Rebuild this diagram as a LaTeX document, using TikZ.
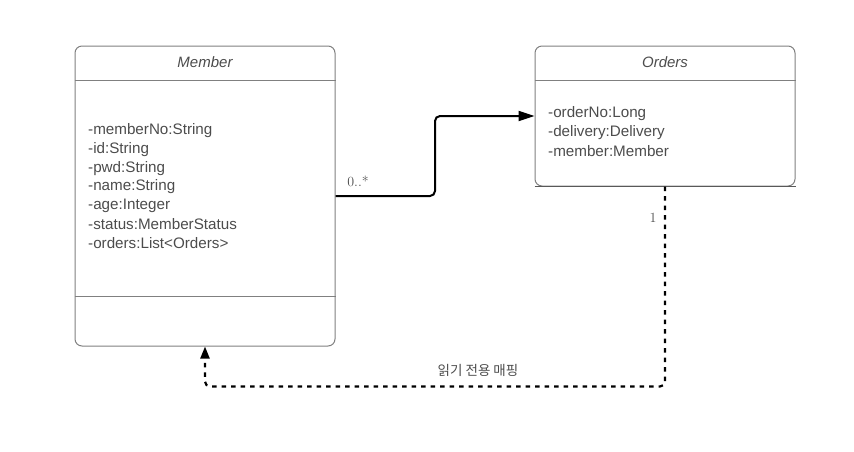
\documentclass[tikz,border=0pt]{standalone}
\usepackage{fontspec}
\setsansfont{Liberation Sans}
\newfontfamily\krfont{Noto Sans CJK KR}
\usepackage{tikz}
\usetikzlibrary{arrows.meta, positioning, calc}

\begin{document}
\begin{tikzpicture}[x=1pt, y=-1pt,
    classbox/.style={rectangle, draw=black!50, line width=1pt, rounded corners=7pt},
    classname/.style={font=\sffamily\itshape\fontsize{15}{17}\selectfont, text=black!70},
    attr/.style={anchor=west, inner sep=0pt, font=\sffamily\fontsize{15.2}{17}\selectfont, text=black!70},
    mult/.style={font=\fontsize{14}{16}\selectfont, text=black!70},
    assoc/.style={line width=2pt, rounded corners=5pt, -{Triangle[length=16pt, width=10pt]}},
    readonly/.style={line width=2.2pt, dash pattern=on 4.5pt off 5pt, rounded corners=5pt, -{Triangle[length=12pt, width=9pt]}}]
    \useasboundingbox (0,0) rectangle (854,451);

    % Define nodes
    \node [classbox, minimum width=260pt, minimum height=300pt] (member) at (205,196) {};
    \node [classbox, minimum width=260pt, minimum height=140pt] (orders) at (665,116) {};

    \node [classname] (membertitle) at (205,62) {Member};
    \node [classname] (orderstitle) at (665,62) {Orders};

    % compartments
    \draw [black!50, line width=1pt] ($(member.north west)+(0,35)$) -- ($(member.north east)+(0,35)$);
    \draw [black!50, line width=1pt] ($(member.south west)+(0,-50)$) -- ($(member.south east)+(0,-50)$);
    \draw [black!50, line width=1pt] ($(orders.north west)+(0,35)$) -- ($(orders.north east)+(0,35)$);
    \draw [black!65, line width=1.2pt] (orders.south west) -- (orders.south east);

    % attributes
    \foreach \t [count=\i] in {-memberNo:String, -id:String, -pwd:String, -name:String,
        -age:Integer, -status:MemberStatus, -orders:List<Orders>}
        \node [attr] (m\i) at (88,131+18.6*\i-18.6) {\t};
    \foreach \t [count=\i] in {-orderNo:Long, -delivery:Delivery, -member:Member}
        \node [attr] (o\i) at (548,114+18.6*\i-18.6) {\t};

    % Draw arrows and labels
    \draw [assoc] (member.east) -| ($(member.east)!.5!(orders.west)$) |- (orders.west);
    \draw [readonly] (orders.south) -- ++(0,200) -| (member.south);

    \node [mult] (many) at (358,181) {0..*};
    \node [mult] (one) at (653,218) {1};
    \node [text=black!70, font=\krfont\fontsize{13.5}{15}\selectfont] (readmap) at (478,370) {읽기 전용 매핑};
\end{tikzpicture}
\end{document}
